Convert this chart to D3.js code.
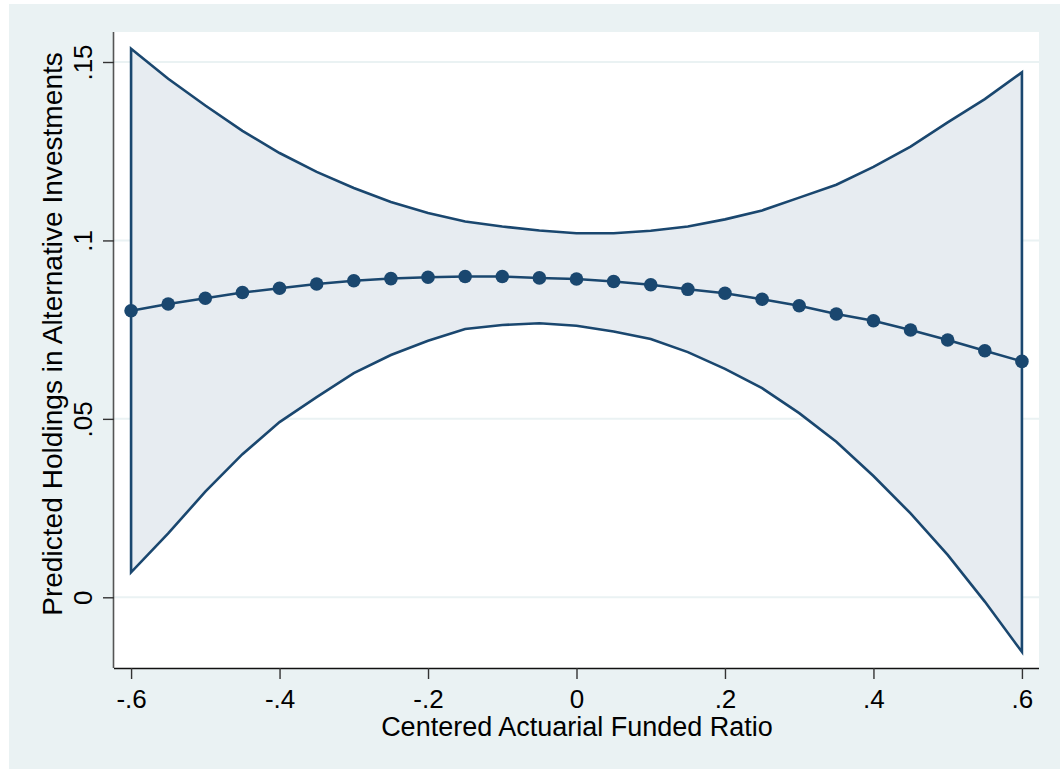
<!DOCTYPE html>
<html>
<head>
<meta charset="utf-8">
<script src="https://cdn.jsdelivr.net/npm/d3@7"></script>
<style>
  html, body { margin: 0; padding: 0; background: #ffffff; }
  svg { display: block; }
  text { font-family: "Liberation Sans", Arial, Helvetica, sans-serif; fill: #000; }
</style>
</head>
<body>
<svg id="chart" width="1060" height="769"></svg>
<script>
// ---- data ----
const xValues = [-0.6, -0.55, -0.5, -0.45, -0.4, -0.35, -0.3, -0.25, -0.2, -0.15, -0.1, -0.05,
                 0, 0.05, 0.1, 0.15, 0.2, 0.25, 0.3, 0.35, 0.4, 0.45, 0.5, 0.55, 0.6];
const predicted = [0.0803, 0.0822, 0.0838, 0.0854, 0.0866, 0.0878, 0.0887, 0.0893, 0.0897, 0.0899,
                   0.0899, 0.0895, 0.0892, 0.0885, 0.0876, 0.0863, 0.0852, 0.0835, 0.0817, 0.0794,
                   0.0775, 0.0749, 0.0721, 0.0691, 0.0661];
const upperCI = [0.1537, 0.1453, 0.1378, 0.1307, 0.1245, 0.1192, 0.1147, 0.1108, 0.1077, 0.1053,
                 0.1039, 0.1028, 0.1020, 0.1020, 0.1027, 0.1039, 0.1059, 0.1084, 0.1120, 0.1156,
                 0.1206, 0.1263, 0.1331, 0.1396, 0.1471];
const lowerCI = [0.0070, 0.0179, 0.0296, 0.0401, 0.0491, 0.0561, 0.0628, 0.0679, 0.0719, 0.0752,
                 0.0763, 0.0768, 0.0761, 0.0745, 0.0724, 0.0687, 0.0640, 0.0586, 0.0516, 0.0436,
                 0.0340, 0.0235, 0.0119, -0.0012, -0.0153];
const xTicks = [-0.6, -0.4, -0.2, 0, 0.2, 0.4, 0.6];
const xTickLabels = ["-.6", "-.4", "-.2", "0", ".2", ".4", ".6"];
const yTicks = [0, 0.05, 0.1, 0.15];
const yTickLabels = ["0", ".05", ".1", ".15"];
const xTitle = "Centered Actuarial Funded Ratio";
const yTitle = "Predicted Holdings in Alternative Investments";

// ---- layout ----
const svg = d3.select("#chart");
const plot = { left: 114, right: 1039, top: 32, bottom: 668 };
const navy = "#1a476f";

// outer background
svg.append("rect").attr("x", 9).attr("y", 4).attr("width", 1051).attr("height", 765).attr("fill", "#eaf2f3");
// plot region
svg.append("rect").attr("x", plot.left).attr("y", plot.top)
   .attr("width", plot.right - plot.left).attr("height", plot.bottom - plot.top).attr("fill", "#ffffff");

const x = d3.scaleLinear().domain([-0.623, 0.623]).range([plot.left, plot.right]);
const y = d3.scaleLinear().domain([0, 0.15]).range([597.3, 62]);

// gridlines
svg.append("g").selectAll("line").data(yTicks).join("line")
   .attr("x1", plot.left).attr("x2", plot.right)
   .attr("y1", d => y(d)).attr("y2", d => y(d))
   .attr("stroke", "#eaf2f3").attr("stroke-width", 2);

const data = xValues.map((v, i) => ({ x: v, p: predicted[i], hi: upperCI[i], lo: lowerCI[i] }));

// CI area (closed, outlined)
const area = d3.area().x(d => x(d.x)).y0(d => y(d.lo)).y1(d => y(d.hi));
svg.append("path").datum(data).attr("d", area(data) )
   .attr("fill", "#e7ecf1").attr("stroke", navy).attr("stroke-width", 2.6)
   .attr("stroke-linejoin", "miter");

// predicted line
const line = d3.line().x(d => x(d.x)).y(d => y(d.p));
svg.append("path").datum(data).attr("d", line)
   .attr("fill", "none").attr("stroke", navy).attr("stroke-width", 2.5);

// markers
svg.append("g").selectAll("circle").data(data).join("circle")
   .attr("cx", d => x(d.x)).attr("cy", d => y(d.p)).attr("r", 6.8).attr("fill", navy);

// axes
const xAxis = d3.axisBottom(x).tickValues(xTicks).tickFormat((d, i) => xTickLabels[i]).tickSize(11).tickSizeOuter(0);
const gx = svg.append("g").attr("transform", `translate(0,${plot.bottom})`).call(xAxis);
gx.select(".domain").attr("d", `M${plot.left},0.5H${plot.right}`).attr("stroke", "#111").attr("stroke-width", 1.6);
gx.selectAll(".tick line").attr("stroke", "#333").attr("stroke-width", 1.4);
gx.selectAll(".tick text").attr("y", 0).attr("dy", 0)
   .attr("transform", "translate(0,40)")
   .style("font-family", '"Liberation Sans", Arial, sans-serif').style("font-size", "26px").attr("fill", "#000");

const yAxis = d3.axisLeft(y).tickValues(yTicks).tickFormat((d, i) => yTickLabels[i]).tickSize(11).tickSizeOuter(0);
const gy = svg.append("g").attr("transform", `translate(${plot.left},0)`).call(yAxis);
gy.select(".domain").attr("d", `M-0.5,${plot.top}V${plot.bottom}`).attr("stroke", "#555").attr("stroke-width", 1.6);
gy.selectAll(".tick line").attr("stroke", "#333").attr("stroke-width", 1.4);
gy.selectAll(".tick text").attr("x", 0).attr("dy", 0)
   .attr("text-anchor", "middle")
   .attr("transform", "translate(-22,0) rotate(-90)")
   .style("font-family", '"Liberation Sans", Arial, sans-serif').style("font-size", "26px").attr("fill", "#000");

// titles
svg.append("text").attr("x", 577).attr("y", 736).attr("text-anchor", "middle")
   .style("font-size", "27px").text(xTitle);
svg.append("text").attr("transform", "translate(62,334) rotate(-90)").attr("text-anchor", "middle")
   .style("font-size", "28.1px").text(yTitle);
</script>
</body>
</html>
